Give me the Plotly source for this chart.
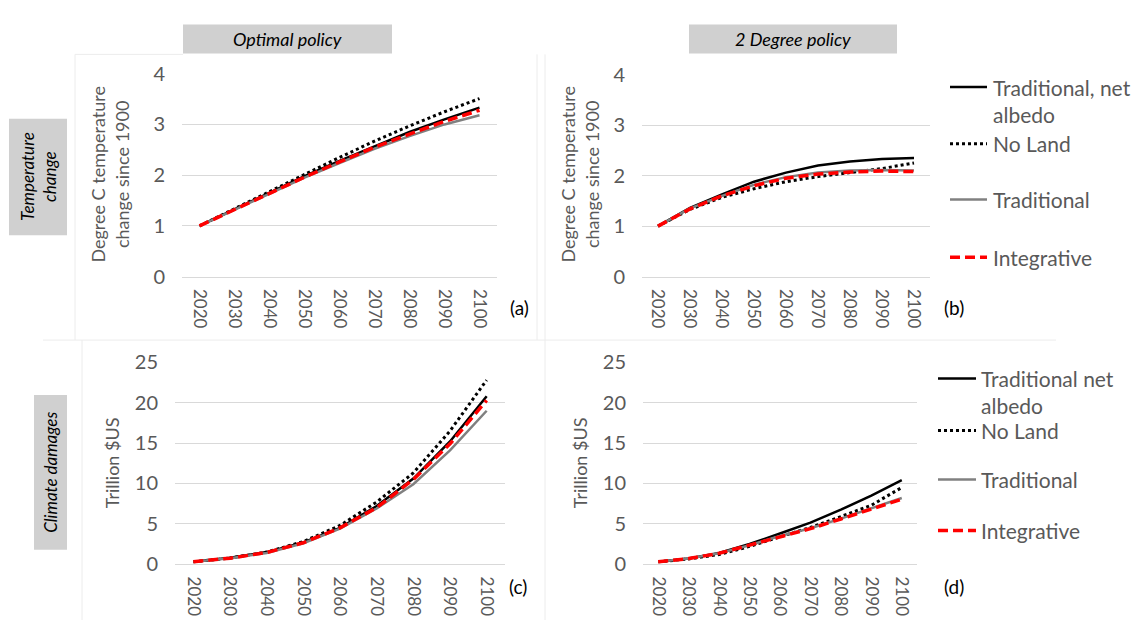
import plotly.graph_objects as go

W, H = 1144, 631
FONT = "Lato"

years = [2020, 2030, 2040, 2050, 2060, 2070, 2080, 2090, 2100]
year_labels = [str(y) for y in years]

series_names = ["Traditional, net albedo", "No Land", "Traditional", "Integrative"]

# (a) Temperature change, optimal policy (deg C since 1900)
temp_opt_trad_albedo = [1.00, 1.33, 1.66, 1.98, 2.28, 2.57, 2.85, 3.10, 3.33]
temp_opt_noland      = [1.00, 1.34, 1.68, 2.02, 2.35, 2.67, 2.97, 3.25, 3.51]
temp_opt_trad        = [1.00, 1.32, 1.64, 1.95, 2.24, 2.52, 2.77, 3.00, 3.18]
temp_opt_integr      = [1.00, 1.32, 1.65, 1.96, 2.26, 2.55, 2.81, 3.06, 3.28]

# (b) Temperature change, 2 degree policy
temp_2d_trad_albedo = [1.00, 1.36, 1.63, 1.88, 2.06, 2.20, 2.28, 2.33, 2.35]
temp_2d_noland      = [1.00, 1.33, 1.57, 1.74, 1.88, 1.98, 2.06, 2.14, 2.25]
temp_2d_trad        = [1.00, 1.35, 1.60, 1.82, 1.97, 2.06, 2.10, 2.11, 2.10]
temp_2d_integr      = [1.00, 1.34, 1.60, 1.80, 1.95, 2.03, 2.07, 2.09, 2.08]

# (c) Climate damages, optimal policy (trillion $US)
dmg_opt_trad_albedo = [0.3, 0.8, 1.5, 2.7, 4.5, 7.2, 10.6, 15.2, 20.8]
dmg_opt_noland      = [0.3, 0.75, 1.5, 2.8, 4.8, 7.7, 11.3, 16.5, 22.8]
dmg_opt_trad        = [0.3, 0.75, 1.4, 2.6, 4.4, 6.9, 9.9, 14.1, 19.0]
dmg_opt_integr      = [0.3, 0.75, 1.45, 2.65, 4.5, 7.0, 10.5, 14.9, 20.3]

# (d) Climate damages, 2 degree policy
dmg_2d_trad_albedo = [0.3, 0.7, 1.4, 2.5, 3.8, 5.15, 6.75, 8.5, 10.4]
dmg_2d_noland      = [0.3, 0.65, 1.2, 2.2, 3.4, 4.55, 5.9, 7.3, 9.5]
dmg_2d_trad        = [0.3, 0.7, 1.35, 2.35, 3.5, 4.45, 5.65, 6.9, 8.2]
dmg_2d_integr      = [0.3, 0.7, 1.35, 2.35, 3.45, 4.4, 5.6, 6.8, 8.05]

panels = [
    dict(data=[temp_opt_trad_albedo, temp_opt_noland, temp_opt_trad, temp_opt_integr],
         x=(182, 497), y=(63, 274), yr=[0, 4], dtick=1),
    dict(data=[temp_2d_trad_albedo, temp_2d_noland, temp_2d_trad, temp_2d_integr],
         x=(642, 930), y=(64, 274), yr=[0, 4], dtick=1),
    dict(data=[dmg_opt_trad_albedo, dmg_opt_noland, dmg_opt_trad, dmg_opt_integr],
         x=(175, 505), y=(363, 573), yr=[0, 25], dtick=5),
    dict(data=[dmg_2d_trad_albedo, dmg_2d_noland, dmg_2d_trad, dmg_2d_integr],
         x=(643, 917), y=(363, 573), yr=[0, 25], dtick=5),
]

styles = [
    dict(color="#000000", width=2.5, dash="solid"),
    dict(color="#000000", width=3, dash="3px,3px"),
    dict(color="#808080", width=2.5, dash="solid"),
    dict(color="#ff0000", width=3.5, dash="10px,5px"),
]


def px(x):
    return x / W


def py(y):
    return 1 - y / H


fig = go.Figure()
layout = dict(
    width=W, height=H, margin=dict(l=0, r=0, t=0, b=0),
    paper_bgcolor="white", plot_bgcolor="white", showlegend=False,
    font=dict(family=FONT, color="#595959"),
)

GRID = "#d9d9d9"
TXT = "#595959"

for i, p in enumerate(panels):
    n = "" if i == 0 else str(i + 1)
    for name, vals, st in zip(series_names, p["data"], styles):
        fig.add_trace(go.Scatter(
            x=years, y=vals, mode="lines", name=name,
            line=dict(color=st["color"], width=st["width"], dash=st["dash"]),
            xaxis="x" + n, yaxis="y" + n, hoverinfo="x+y+name",
        ))
    layout["xaxis" + n] = dict(
        domain=[px(p["x"][0]), px(p["x"][1])], anchor="y" + n,
        range=[2015, 2105], tickmode="array", tickvals=years, ticktext=year_labels,
        tickangle=90, tickfont=dict(family=FONT, size=17, color=TXT),
        showgrid=False, zeroline=False, showline=True, linecolor=GRID, linewidth=1,
        ticks="", ticklabelstandoff=8, fixedrange=True,
    )
    layout["yaxis" + n] = dict(
        domain=[py(p["y"][1]), py(p["y"][0])], anchor="x" + n,
        range=[p["yr"][0], p["yr"][1] * 1.0005], tick0=0, dtick=p["dtick"],
        tickfont=dict(family=FONT, size=20, color=TXT),
        showgrid=True, gridcolor=GRID, gridwidth=1, zeroline=False, showline=False,
        ticks="", ticklabelstandoff=16, fixedrange=True,
    )

shapes = []
annotations = []

# faint chart-area borders
BORDER = "#ececec"
for x0, y0, x1, y1 in [
    (43, 340, 1056, 340), (545, 43, 545, 631), (75, 43, 75, 340),
    (537, 43, 537, 340), (75, 43, 183, 43), (82, 340, 82, 631),
]:
    shapes.append(dict(type="line", xref="paper", yref="paper",
                       x0=px(x0), y0=py(y0), x1=px(x1), y1=py(y1),
                       line=dict(color=BORDER, width=1), layer="below"))

BOX = "#d0d0d0"
# column headers
for (x0, x1), txt in [((183, 392), "Optimal policy"), ((689, 897), "2 Degree policy")]:
    shapes.append(dict(type="rect", xref="paper", yref="paper",
                       x0=px(x0), x1=px(x1), y0=py(42), y1=py(12),
                       fillcolor=BOX, line=dict(width=0)))
    annotations.append(dict(xref="paper", yref="paper", x=px((x0 + x1) / 2), y=py(27),
                            text="<i>" + txt + "</i>", showarrow=False,
                            xanchor="center", yanchor="middle",
                            font=dict(family=FONT, size=18, color="#000000")))

# row headers
for (x0, x1, y0, y1), txt in [((9, 67, 110, 231), "Temperature<br>change"),
                              ((34, 67, 397, 558), "Climate damages")]:
    shapes.append(dict(type="rect", xref="paper", yref="paper",
                       x0=px(x0), x1=px(x1), y0=py(y1), y1=py(y0),
                       fillcolor=BOX, line=dict(width=0)))
    annotations.append(dict(xref="paper", yref="paper", x=px((x0 + x1) / 2),
                            y=py((y0 + y1) / 2), text="<i>" + txt + "</i>",
                            showarrow=False, textangle=-90,
                            xanchor="center", yanchor="middle",
                            font=dict(family=FONT, size=17, color="#000000")))

# y-axis titles
for x, y, txt in [(110, 168, "Degree C temperature<br>change since 1900"),
                  (580, 168, "Degree C temperature<br>change since 1900"),
                  (112, 468, "Trillion $US"), (580, 468, "Trillion $US")]:
    annotations.append(dict(xref="paper", yref="paper", x=px(x), y=py(y), text=txt,
                            showarrow=False, textangle=-90, xanchor="center",
                            yanchor="middle",
                            font=dict(family=FONT, size=18, color=TXT)))

# panel letters
for x, y, txt in [(519, 306, "(a)"), (954, 306, "(b)"), (518, 596, "(c)"), (954, 596, "(d)")]:
    annotations.append(dict(xref="paper", yref="paper", x=px(x), y=py(y), text=txt,
                            showarrow=False, xanchor="center", yanchor="middle",
                            font=dict(family=FONT, size=19, color="#000000")))

# legends
legends = [
    dict(x0=950, x1=987, tx=991,
         rows=[(77, "Traditional, net"), (136, "No Land"), (194, "Traditional"), (254, "Integrative")],
         extra=(106, "albedo")),
    dict(x0=938, x1=976, tx=979,
         rows=[(380, "Traditional net"), (434, "No Land"), (485, "Traditional"), (538, "Integrative")],
         extra=(408, "albedo")),
]
for lg in legends:
    for (y, txt), st in zip(lg["rows"], styles):
        shapes.append(dict(type="line", xref="paper", yref="paper",
                           x0=px(lg["x0"]), x1=px(lg["x1"]), y0=py(y), y1=py(y),
                           line=dict(color=st["color"], width=st["width"], dash=st["dash"])))
        annotations.append(dict(xref="paper", yref="paper", x=px(lg["tx"]), y=py(y),
                                text=txt, showarrow=False, xanchor="left", yanchor="middle",
                                font=dict(family=FONT, size=21, color=TXT)))
    y, txt = lg["extra"]
    annotations.append(dict(xref="paper", yref="paper", x=px(lg["tx"]), y=py(y),
                            text=txt, showarrow=False, xanchor="left", yanchor="middle",
                            font=dict(family=FONT, size=21, color=TXT)))

layout["shapes"] = shapes
layout["annotations"] = annotations
fig.update_layout(**layout)
fig.write_html("out.html")
